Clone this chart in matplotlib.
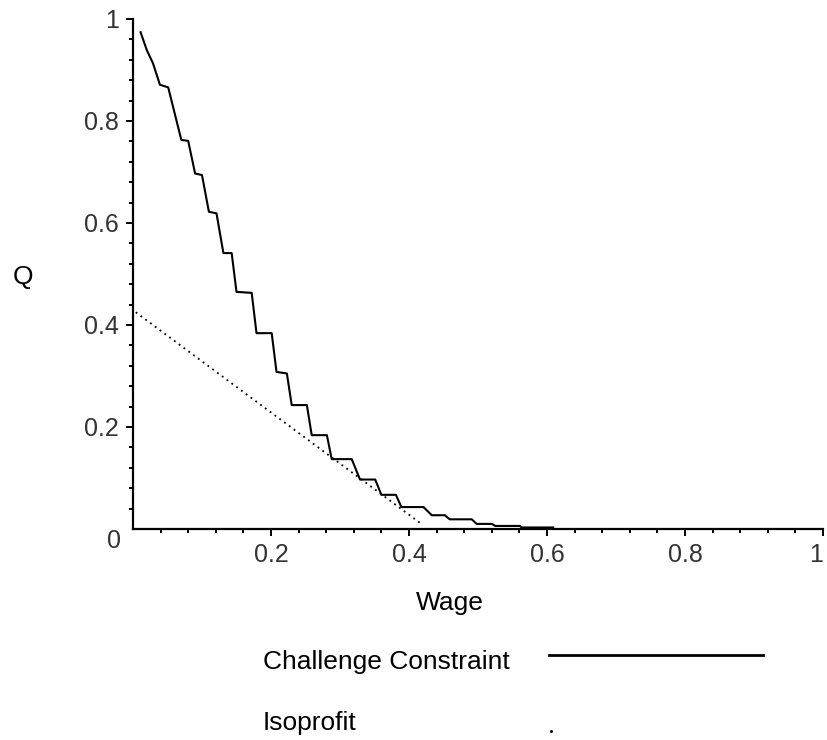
import matplotlib.pyplot as plt
from matplotlib.lines import Line2D

# Challenge constraint (step-like curve)
wage = [0.011, 0.020, 0.029, 0.039, 0.051, 0.058, 0.070, 0.080, 0.090, 0.100,
        0.110, 0.121, 0.131, 0.143, 0.150, 0.172, 0.179, 0.201, 0.208, 0.223,
        0.230, 0.252, 0.259, 0.281, 0.288, 0.317, 0.329, 0.351, 0.360, 0.381,
        0.389, 0.421, 0.433, 0.452, 0.459, 0.491, 0.498, 0.520, 0.525, 0.561,
        0.563, 0.609]
q_challenge = [0.974, 0.939, 0.913, 0.871, 0.866, 0.828, 0.763, 0.761, 0.697, 0.694,
               0.622, 0.619, 0.541, 0.541, 0.465, 0.463, 0.384, 0.384, 0.308, 0.305,
               0.243, 0.243, 0.184, 0.184, 0.137, 0.137, 0.097, 0.097, 0.067, 0.067,
               0.043, 0.043, 0.027, 0.027, 0.019, 0.019, 0.010, 0.010, 0.006, 0.006,
               0.003, 0.003]

# Isoprofit (straight dotted line)
wage_iso = [0.004, 0.416]
q_iso = [0.425, 0.012]

major_ticks = [0.2, 0.4, 0.6, 0.8, 1.0]
major_labels = ['0.2', '0.4', '0.6', '0.8', '1']
minor_ticks = [0.04, 0.08, 0.12, 0.16, 0.24, 0.28, 0.32, 0.36, 0.44, 0.48,
               0.52, 0.56, 0.64, 0.68, 0.72, 0.76, 0.84, 0.88, 0.92, 0.96]

W, H = 828, 740
fig = plt.figure(figsize=(W / 100, H / 100), dpi=100)
ax = fig.add_axes([133 / W, 1 - 529 / H, 690 / W, 510 / H])

ax.plot(wage, q_challenge, color='black', lw=1.5, clip_on=False)
ax.plot(wage_iso, q_iso, color='black', lw=1.3, linestyle=(0, (1, 2.3)), clip_on=False)

ax.set_xlim(0, 1)
ax.set_ylim(0, 1)
for s in ['top', 'right']:
    ax.spines[s].set_visible(False)
for s in ['left', 'bottom']:
    ax.spines[s].set_linewidth(1.6)

tick_font = dict(family='Liberation Sans', size=18, color='#333333')
ax.set_xticks(major_ticks)
ax.set_xticklabels(major_labels, **tick_font)
ax.set_yticks(major_ticks)
ax.set_yticklabels(major_labels, **tick_font)
ax.set_xticks(minor_ticks, minor=True)
ax.set_yticks(minor_ticks, minor=True)
ax.tick_params(which='major', length=5, width=1.4, pad=5, color='black')
ax.tick_params(which='minor', length=3, width=1.4, color='black')
# keep the "1" at the right end inside the picture
ax.get_xticklabels()[-1].set_horizontalalignment('right')

# "0" at the origin
ax.annotate('0', (0, 0), xytext=(-14, -9), textcoords='offset points',
            ha='center', va='center', **tick_font)

lab_font = dict(family='Liberation Sans', size=19, color='black')
fig.text(23 / W, 1 - 277 / H, 'Q', ha='center', va='center', **lab_font)
fig.text(450 / W, 1 - 603 / H, 'Wage', ha='center', va='center', **lab_font)

# legend drawn below, labels left, samples right
fig.text(263 / W, 1 - 662 / H, 'Challenge Constraint', ha='left', va='center', **lab_font)
fig.text(263 / W, 1 - 723 / H, 'Isoprofit', ha='left', va='center', **lab_font)
fig.add_artist(Line2D([549 / W, 763 / W], [1 - 655 / H, 1 - 655 / H],
                      transform=fig.transFigure, color='black', lw=2))
fig.add_artist(Line2D([551 / W], [1 - 731 / H], transform=fig.transFigure,
                      color='black', marker='s', markersize=1.0, lw=0))

fig.savefig('out.png', dpi=100)
